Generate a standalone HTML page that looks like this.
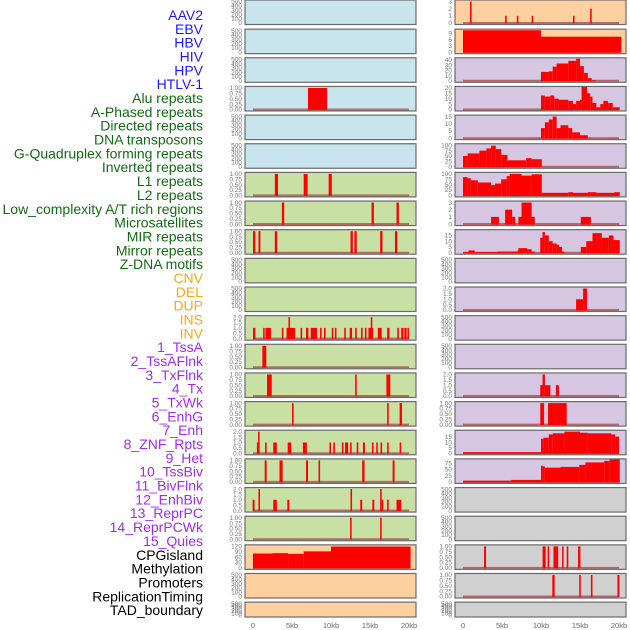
<!DOCTYPE html>
<html><head><meta charset="utf-8"><style>
html,body{margin:0;padding:0;background:#fff}
svg{display:block}
text{font-family:"Liberation Sans",sans-serif}
</style></head><body>
<svg id="chart" width="630" height="630" viewBox="0 0 630 630">
<g id="labels" font-size="14" text-anchor="end"></g>
<g id="panels"></g>
</svg>
<script>
const trackLabels = ["AAV2","EBV","HBV","HIV","HPV","HTLV-1","Alu repeats","A-Phased repeats","Directed repeats","DNA transposons","G-Quadruplex forming repeats","Inverted repeats","L1 repeats","L2 repeats","Low_complexity A/T rich regions","Microsatellites","MIR repeats","Mirror repeats","Z-DNA motifs","CNV","DEL","DUP","INS","INV","1_TssA","2_TssAFlnk","3_TxFlnk","4_Tx","5_TxWk","6_EnhG","7_Enh","8_ZNF_Rpts","9_Het","10_TssBiv","11_BivFlnk","12_EnhBiv","13_ReprPC","14_ReprPCWk","15_Quies","CPGisland","Methylation","Promoters","ReplicationTiming","TAD_boundary"];
const labelGroups = [6,13,5,15,5];
const xTicks = [0,5,10,15,20];
const xTickLabels = ["0","5kb","10kb","15kb","20kb"];
const T500 = ["0","100","200","300","400","500"];
const T1 = ["0.00","0.25","0.50","0.75","1.00"];
const T2 = ["0.0","0.5","1.0","1.5","2.0"];
// segments: [startKb, endKb, value]
const hivSegs = [[7.05,9.5,1]];
const aluSegs = [[2.8,3.2,1],[6.5,7.0,1],[9.7,10.1,1]];
const aphSegs = [[3.7,4.0,1],[15.2,15.5,1],[18.4,18.7,1]];
const dirSegs = [[0.0,0.3,1],[0.7,0.95,1],[2.8,3.1,1],[12.5,12.8,1],[13.0,13.3,1],[16.3,16.6,1],[18.2,18.5,1]];
const invSegs = [[0,0.3,1],[1.3,1.5,1],[1.6,2.3,1],[3.7,3.9,1],[4.3,5.4,1],[4.55,4.75,2],[6.1,6.3,1],[6.8,7.1,1],[7.4,8.2,1],[8.6,8.8,1],[9.1,9.3,1],[10.1,10.3,1],[10.5,10.7,1],[11.7,11.9,1],[12.4,12.7,1],[13.1,13.3,1],[13.85,14.05,1],[14.35,14.55,1],[14.8,15.4,1],[15.1,15.3,2],[16.0,16.5,1],[17.2,17.5,1],[18.5,18.7,1],[19.0,19.3,1],[19.4,19.7,1],[19.8,19.9,1]];
const l1Segs = [[1.2,1.7,1]];
const l2Segs = [[1.8,2.4,1],[13.1,13.3,1],[17.1,17.6,1]];
const lowSegs = [[5.0,5.2,1],[17.2,17.4,1],[18.8,19.1,1]];
const microSegs = [[0.5,0.65,1],[0.65,0.85,2],[1.55,1.75,1],[2.6,3.05,1],[4.45,4.9,1],[6.4,6.9,1],[9.8,10.0,1],[10.3,10.5,1],[11.4,11.6,1],[11.8,12.2,1],[12.45,12.65,1],[13.3,13.5,1],[14.1,14.35,1],[15.25,15.45,1],[15.8,16.0,1],[16.35,16.55,1],[17.2,17.4,1],[18.8,19.0,1]];
const mirSegs = [[1.5,1.75,1],[3.4,3.8,1],[6.8,7.05,1],[8.4,8.6,1],[14.0,14.3,1],[17.9,18.15,1]];
const mirrorSegs = [[-0.05,0.2,1],[0.7,0.9,2],[2.6,3.05,1],[4.4,4.65,1],[12.5,12.7,2],[13.75,14.0,1],[15.3,15.55,1],[16.3,16.5,2],[16.5,16.7,1],[17.2,17.4,1],[18.4,19.0,1]];
const zdnaSegs = [[12.45,12.65,1],[16.3,16.5,1]];
const cnvSegs = [[0,2.5,80],[2.5,4.5,82],[4.5,6.5,78],[6.5,10,92],[10,20.2,119]];
const insSegs = [[0.9,1.1,3],[5.4,5.6,1],[6.9,7.1,1],[8.8,9.0,1],[14.1,14.3,1],[16.3,16.5,2]];
const invSvSegs = [[0,10,10.5],[10,20.3,7.4]];
const s1Segs = [[10,11,17],[11,11.5,18],[11.5,12,27],[12,13.5,33],[13.5,14.5,38],[14.5,15,42],[15,15.5,28],[15.5,16,15],[16,16.5,5],[16.5,17,1]];
const s2Segs = [[10,10.5,13],[10.5,11.2,12],[11.2,11.7,13],[11.7,12.3,10],[12.3,13.5,9],[13.5,14.1,8],[14.1,14.5,5],[14.5,15,8],[15,15.2,9],[15.2,15.9,21],[15.9,16.3,15],[16.3,16.6,12],[16.6,17.1,6],[17.1,17.6,2],[17.6,18,5],[18,18.6,8],[18.6,19.2,6],[19.2,20.1,2]];
const s3Segs = [[10,10.5,7],[10.5,11,11],[11,11.5,13],[11.5,12,15],[12,12.5,7],[12.5,13.5,9],[13.5,14,7],[14,15,4],[15,16,2]];
const s4Segs = [[0,0.6,50],[0.6,2.1,62],[2.1,3,75],[3,3.6,85],[3.6,4.2,98],[4.2,4.9,82],[4.9,5.7,55],[5.7,8.1,30],[8.1,8.8,40],[8.8,10.1,35]];
const s5Segs = [[0,0.6,85],[0.6,1,80],[1,1.9,70],[1.9,3.6,60],[3.6,4.1,48],[4.1,4.9,55],[4.9,5.6,75],[5.6,6,90],[6,7.5,100],[7.5,8.8,92],[8.8,10.1,98],[10.1,13.5,12],[13.5,14.1,15],[14.1,16,12],[16,17.1,15],[17.1,19.4,12],[19.4,20.1,15]];
const s6Segs = [[3.6,4.6,1],[5.4,6.3,2],[6.3,6.7,1],[7.1,7.5,1],[7.5,8.8,3],[8.8,9.2,1],[15.1,16.4,1]];
const s7Segs = [[0,0.7,0.5],[0.7,1.5,2],[1.5,4.4,0.5],[4.4,7,1],[7,7.1,2],[7.1,8.2,4],[8.2,8.8,3],[8.8,9.2,1],[9.9,10.2,13],[10.2,10.5,18],[10.5,11,15],[11,11.5,10],[11.5,12,8],[12,12.3,7],[12.3,12.7,5],[12.7,13,1],[15.1,15.8,5],[15.8,16.6,10],[16.6,17.8,17],[17.8,18.7,13],[18.7,19.3,15],[19.3,20.1,11]];
const s9Segs = [[14.5,15.4,1],[15.4,15.9,2]];
const s12Segs = [[9.9,10.2,1],[10.2,10.5,2],[10.5,11.2,1],[11.9,12.3,1]];
const s13Segs = [[9.9,10.4,1],[10.9,13.3,1]];
const s14Segs = [[0,10,1],[10,10.3,13],[10.3,11,14],[11,11.5,17],[11.5,13,18],[13,15,19.5],[15,16,18.5],[16,19,18],[19,19.5,17],[19.5,20,15]];
const s15Segs = [[0,6.2,5],[6.2,10,8],[10,10.2,65],[10.2,10.5,62],[10.5,12.5,57],[12.5,14.9,60],[14.9,15.7,68],[15.7,18.1,78],[18.1,18.8,84],[18.8,20.1,90]];
const cpgSegs = [[2.7,2.95,1],[10.2,10.6,1],[10.85,11.05,1],[11.6,12.2,1],[12.7,12.9,1],[13.3,13.5,1],[14.75,15.05,1]];
const methSegs = [[11.45,11.75,1],[14.9,15.1,1],[16.4,16.6,1],[19.8,20.05,1]];

const BLUE="#c8e4ec",GREEN="#c8e0a4",ORANGE="#ffd09f",LAV="#d6c6e2",GREY="#d0d0d0";
// [segments, tickLabels, ymax, background]
const leftPanels = [
 [null,T500,500,BLUE],[null,T500,500,BLUE],[null,T500,500,BLUE],[hivSegs,T1,1,BLUE],[null,T500,500,BLUE],[null,T500,500,BLUE],
 [aluSegs,T1,1,GREEN],[aphSegs,T1,1,GREEN],[dirSegs,T1,1,GREEN],[null,T500,500,GREEN],[null,T500,500,GREEN],[invSegs,T2,2,GREEN],
 [l1Segs,T1,1,GREEN],[l2Segs,T1,1,GREEN],[lowSegs,T1,1,GREEN],[microSegs,T2,2,GREEN],[mirSegs,T1,1,GREEN],[mirrorSegs,T2,2,GREEN],[zdnaSegs,T1,1,GREEN],
 [cnvSegs,["0","30","60","90","120"],120,ORANGE],[null,T500,500,ORANGE],[null,T500,500,ORANGE]];
const rightPanels = [
 [insSegs,["0","1","2","3"],3,ORANGE],[invSvSegs,["0","3","6","9"],10.3,ORANGE],
 [s1Segs,["0","10","20","30","40"],41,LAV],[s2Segs,["0","5","10","15","20"],20,LAV],[s3Segs,["0","5","10","15"],15,LAV],
 [s4Segs,["0","25","50","75","100"],100,LAV],[s5Segs,["0","25","50","75","100"],100,LAV],[s6Segs,["0","1","2","3"],3,LAV],
 [s7Segs,["0","5","10","15"],18.7,LAV],[null,T500,500,LAV],[s9Segs,T2,2,LAV],[null,T500,500,LAV],[null,T500,500,LAV],
 [s12Segs,T2,2,LAV],[s13Segs,T1,1,LAV],[s14Segs,["0","5","10","15"],19.4,LAV],[s15Segs,["0","25","50","75"],86,LAV],
 [null,T500,500,GREY],[null,T500,500,GREY],[cpgSegs,T1,1,GREY],[methSegs,T1,1,GREY],[null,T500,500,GREY]];

const NS="http://www.w3.org/2000/svg";
function mk(tag,attrs,parent){const e=document.createElementNS(NS,tag);for(const k in attrs)e.setAttribute(k,attrs[k]);parent.appendChild(e);return e;}

// labels
const lg=document.getElementById('labels');
const groupColors=["#1a1aff","#136b13","#ffa51a","#a12cf0","#000000"];
let gi=0,cnt=0;
trackLabels.forEach((name,i)=>{
  while(cnt>=labelGroups[gi]){gi++;cnt=0;}
  cnt++;
  const t=mk('text',{x:203,y:15+i*13.84+5,fill:groupColors[gi]},lg);
  
  
  t.textContent=name;
});

const pg=document.getElementById('panels');
function rowTop(i){return i===0?0:0.5+28.65*i;}
function rowBottom(i){return i===21?617:rowTop(i)+24.5-(i===0?0:0.5)+(i===0?0:0.5);}
function drawColumn(panels,x0,x1,zeroX,colName){
  const xs=kb=>zeroX+kb*7.8;
  panels.forEach((p,i)=>{
    const [segs,ticks,ymax,bg]=p;
    const T=rowTop(i), B=(i===21)?617:(i===0?24.5:T+24.5);
    const g=mk('g',{},pg);
    
    
    const r=mk('rect',{x:x0,y:T,width:x1-x0,height:B-T,fill:bg,stroke:'none'},g);
    
    
    const y0=B-1.5, yt=T+1.5;
    const ys=v=>y0-(v/ymax)*(y0-yt);
    ticks.forEach(tl=>{
      const v=parseFloat(tl);
      const t=mk('text',{x:x0-3,y:ys(v)+2.2,'font-size':6.5,fill:'#777','text-anchor':'end'},g);
      
      
      t.textContent=tl;
    });
    if(segs){
      const bl=mk('line',{x1:xs(0),x2:xs(20),y1:y0,y2:y0,stroke:'rgba(170,60,60,0.7)','stroke-width':2},g);
      
      
      segs.forEach(s=>{
        const yv=Math.max(ys(s[2]),T);
        const b=mk('rect',{x:xs(s[0]),y:yv,width:Math.max(xs(s[1])-xs(s[0]),1.5),height:y0-yv+0.5,fill:'#ff0000'},g);
        
        
      });
    }
    const fr=mk('rect',{x:x0,y:T,width:x1-x0,height:B-T,fill:'none',stroke:'#6a6a6a','stroke-width':1.2},g);
    
    
  });
  xTicks.forEach((k,j)=>{
    const t=mk('text',{x:xs(k),y:628,'font-size':7.5,fill:'#666','text-anchor':'middle'},pg);
    
    
    t.textContent=xTickLabels[j];
  });
}
drawColumn(leftPanels,245,416,253,'left');
drawColumn(rightPanels,455,626,463,'right');
</script>
</body></html>
